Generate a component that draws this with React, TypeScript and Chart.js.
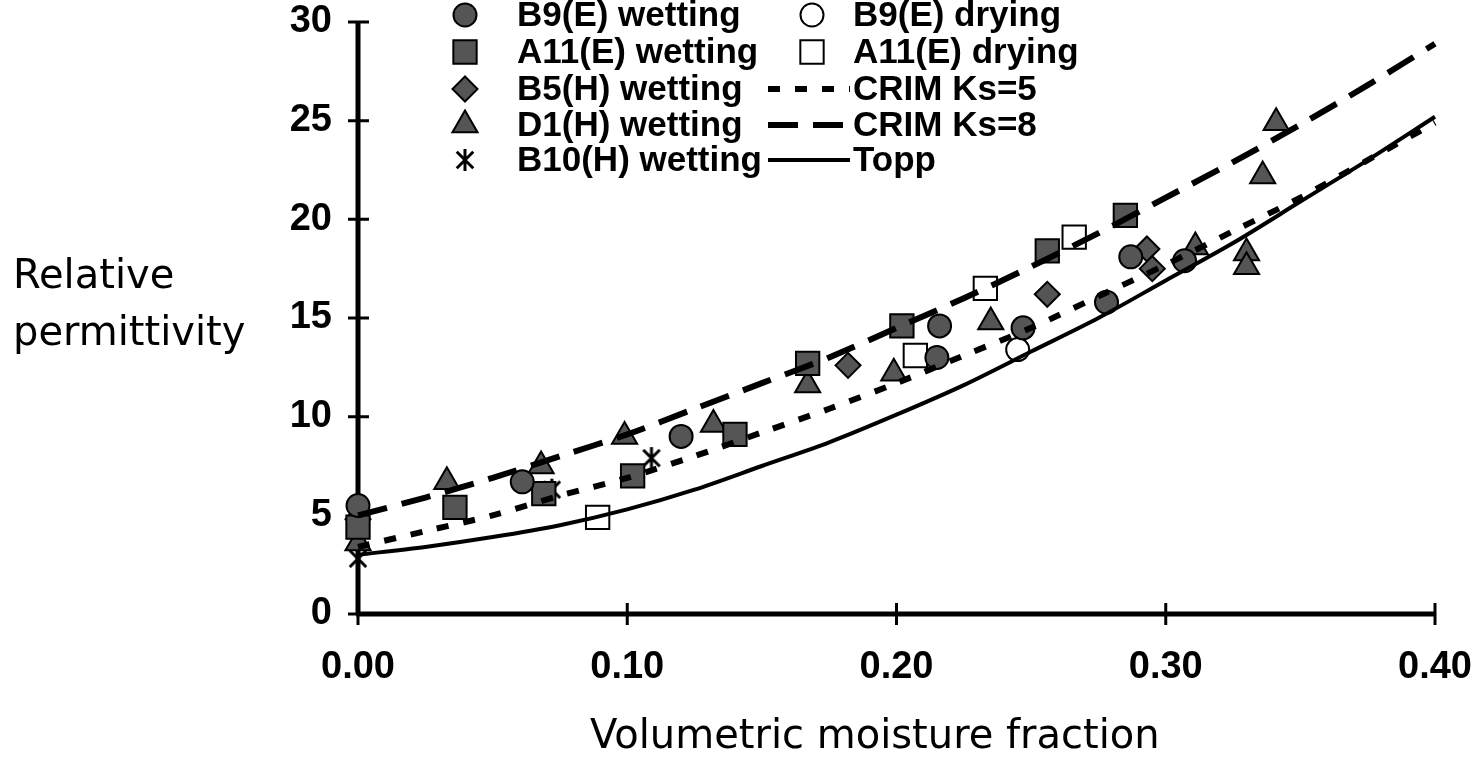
import React, { useEffect, useRef } from 'react';
import { Chart, registerables } from 'chart.js';

Chart.register(...registerables);

// ---------- data ----------
const xTickLabels = ['0.00', '0.10', '0.20', '0.30', '0.40'];
const yTickLabels = ['0', '5', '10', '15', '20', '25', '30'];
const xTitle = 'Volumetric moisture fraction';
const yTitleLines = ['Relative', 'permittivity'];

const b9WetX = [0.0, 0.061, 0.12, 0.215, 0.216, 0.247, 0.278, 0.287, 0.307];
const b9WetY = [5.5, 6.7, 9.0, 13.0, 14.6, 14.5, 15.8, 18.1, 17.9];
const b9DryX = [0.245];
const b9DryY = [13.4];
const a11WetX = [0.0, 0.036, 0.069, 0.102, 0.14, 0.167, 0.202, 0.256, 0.285];
const a11WetY = [4.4, 5.4, 6.1, 7.0, 9.1, 12.7, 14.6, 18.4, 20.2];
const a11DryX = [0.089, 0.207, 0.233, 0.266];
const a11DryY = [4.9, 13.1, 16.5, 19.1];
const b5WetX = [0.0, 0.182, 0.256, 0.293, 0.295];
const b5WetY = [4.8, 12.6, 16.2, 18.5, 17.5];
const d1WetX = [0.0, 0.033, 0.068, 0.099, 0.132, 0.167, 0.199, 0.235, 0.311, 0.33, 0.33, 0.336, 0.341];
const d1WetY = [3.6, 6.7, 7.5, 9.0, 9.6, 11.6, 12.2, 14.8, 18.6, 18.3, 17.6, 22.2, 24.9];
const b10WetX = [0.0, 0.072, 0.109];
const b10WetY = [2.8, 6.3, 7.9];

const curveX = [0, 0.025, 0.05, 0.075, 0.1, 0.125, 0.15, 0.175, 0.2, 0.225, 0.25, 0.275, 0.3, 0.325, 0.35, 0.375, 0.4];
const crim5Y = [3.4, 4.2, 5.0, 6.0, 6.9, 8.0, 9.2, 10.4, 11.7, 13.1, 14.5, 16.1, 17.7, 19.4, 21.1, 23.0, 24.9];
const crim8Y = [5.0, 5.9, 6.9, 8.0, 9.1, 10.4, 11.7, 13.0, 14.5, 16.0, 17.6, 19.3, 21.1, 22.9, 24.8, 26.8, 28.9];
const toppY = [3.0, 3.4, 3.9, 4.5, 5.3, 6.3, 7.5, 8.7, 10.1, 11.6, 13.3, 15.0, 16.9, 18.8, 20.9, 23.0, 25.2];

// ---------- helpers ----------
const zip = (xs: number[], ys: number[]) => xs.map((x, i) => ({ x, y: ys[i] }));

const FILL = '#555555';
const TICK_FONT = { family: '"Liberation Sans", Arial, sans-serif', weight: 'bold' as const, size: 38 };
const LEGEND_FONT = 'bold 35px "Liberation Sans", Arial, sans-serif';
const TITLE_FONT = '40px "DejaVu Sans", Verdana, sans-serif';

function makeAsterisk(size: number): HTMLCanvasElement {
  const c = document.createElement('canvas');
  c.width = size;
  c.height = size;
  const g = c.getContext('2d')!;
  g.strokeStyle = '#000';
  g.lineWidth = 3;
  const m = size / 2;
  const r = size / 2 - 2;
  const d = r * 0.75;
  g.beginPath();
  g.moveTo(m, m - r);
  g.lineTo(m, m + r);
  g.moveTo(m - d, m - d);
  g.lineTo(m + d, m + d);
  g.moveTo(m + d, m - d);
  g.lineTo(m - d, m + d);
  g.stroke();
  return c;
}

function drawMarker(ctx: CanvasRenderingContext2D, style: any, x: number, y: number, r: number, fill: string) {
  if (style instanceof HTMLCanvasElement) {
    ctx.drawImage(style, x - style.width / 2, y - style.height / 2);
    return;
  }
  ctx.beginPath();
  if (style === 'circle') {
    ctx.arc(x, y, r, 0, Math.PI * 2);
  } else if (style === 'rect') {
    const s = r * Math.SQRT1_2;
    ctx.rect(x - s, y - s, 2 * s, 2 * s);
  } else if (style === 'rectRot') {
    ctx.moveTo(x, y - r);
    ctx.lineTo(x + r, y);
    ctx.lineTo(x, y + r);
    ctx.lineTo(x - r, y);
    ctx.closePath();
  } else if (style === 'triangle') {
    let a = 0;
    ctx.moveTo(x + Math.sin(a) * r, y - Math.cos(a) * r);
    a += (2 * Math.PI) / 3;
    ctx.lineTo(x + Math.sin(a) * r, y - Math.cos(a) * r);
    a += (2 * Math.PI) / 3;
    ctx.lineTo(x + Math.sin(a) * r, y - Math.cos(a) * r);
    ctx.closePath();
  }
  ctx.fillStyle = fill;
  ctx.fill();
  ctx.lineWidth = 2;
  ctx.strokeStyle = '#000';
  ctx.stroke();
}

const axesPlugin = {
  id: 'crossAxes',
  beforeDatasetsDraw(chart: any) {
    const { ctx, chartArea, scales } = chart;
    const xs = scales.x;
    const ys = scales.y;
    ctx.save();
    ctx.strokeStyle = '#000';
    ctx.lineCap = 'butt';
    ctx.lineWidth = 5;
    ctx.beginPath();
    ctx.moveTo(chartArea.left, chartArea.top - 1);
    ctx.lineTo(chartArea.left, chartArea.bottom);
    ctx.moveTo(chartArea.left - 2, chartArea.bottom);
    ctx.lineTo(chartArea.right + 1, chartArea.bottom);
    ctx.stroke();
    ctx.lineWidth = 3;
    ctx.beginPath();
    ys.ticks.forEach((t: any) => {
      const py = ys.getPixelForValue(t.value);
      ctx.moveTo(chartArea.left - 10, py);
      ctx.lineTo(chartArea.left + 11, py);
    });
    xs.ticks.forEach((t: any) => {
      const px = xs.getPixelForValue(t.value);
      ctx.moveTo(px, chartArea.bottom - 11);
      ctx.lineTo(px, chartArea.bottom + 11);
    });
    ctx.stroke();
    ctx.restore();
  },
};

const textPlugin = {
  id: 'titlesLegend',
  afterDraw(chart: any) {
    const { ctx } = chart;
    const ds = chart.data.datasets;
    ctx.save();
    // axis titles
    ctx.fillStyle = '#000';
    ctx.font = TITLE_FONT;
    ctx.textAlign = 'left';
    ctx.textBaseline = 'alphabetic';
    ctx.fillText(yTitleLines[0], 13, 288);
    ctx.fillText(yTitleLines[1], 13, 345);
    ctx.fillText(xTitle, 590, 748);

    // legend
    const rows = [15, 52, 89, 125, 160];
    const col1 = [0, 2, 4, 5, 6];
    const col2 = [1, 3, 7, 8, 9];
    ctx.font = LEGEND_FONT;
    ctx.textBaseline = 'middle';
    rows.forEach((ry, i) => {
      const d1 = ds[col1[i]];
      drawMarker(ctx, d1.pointStyle, 465, ry, d1.pointRadius, d1.pointBackgroundColor);
      ctx.fillStyle = '#000';
      ctx.fillText(d1.label, 517, ry + 1);
      const d2 = ds[col2[i]];
      if (d2.showLine) {
        ctx.save();
        ctx.strokeStyle = '#000';
        ctx.lineWidth = d2.borderWidth;
        ctx.setLineDash(d2.borderDash || []);
        ctx.beginPath();
        ctx.moveTo(768, ry);
        ctx.lineTo(850, ry);
        ctx.stroke();
        ctx.restore();
      } else {
        drawMarker(ctx, d2.pointStyle, 812, ry, d2.pointRadius, d2.pointBackgroundColor);
      }
      ctx.fillStyle = '#000';
      ctx.fillText(d2.label, 853, ry + 1);
    });
    ctx.restore();
  },
};

export default function App() {
  const ref = useRef<HTMLCanvasElement | null>(null);

  useEffect(() => {
    if (!ref.current) return;
    const star = makeAsterisk(26);
    const marker = (label: string, xs: number[], ys: number[], style: any, r: number, fill: string) => ({
      label,
      data: zip(xs, ys),
      showLine: false,
      pointStyle: style,
      pointRadius: r,
      pointBackgroundColor: fill,
      pointBorderColor: '#000',
      pointBorderWidth: 2,
      clip: false as const,
      order: 1,
    });
    const curve = (label: string, ys: number[], width: number, dash: number[]) => ({
      label,
      data: zip(curveX, ys),
      showLine: true,
      borderColor: '#000',
      borderWidth: width,
      borderDash: dash,
      pointRadius: 0,
      tension: 0.3,
      fill: false,
      clip: false as const,
      order: 0,
    });

    const datasets: any[] = [
      marker('B9(E) wetting', b9WetX, b9WetY, 'circle', 11.5, FILL), // 0
      marker('B9(E) drying', b9DryX, b9DryY, 'circle', 11.5, '#ffffff'), // 1
      marker('A11(E) wetting', a11WetX, a11WetY, 'rect', 16.5, FILL), // 2
      marker('A11(E) drying', a11DryX, a11DryY, 'rect', 16.5, '#ffffff'), // 3
      marker('B5(H) wetting', b5WetX, b5WetY, 'rectRot', 12.5, FILL), // 4
      marker('D1(H) wetting', d1WetX, d1WetY, 'triangle', 14.5, FILL), // 5
      marker('B10(H) wetting', b10WetX, b10WetY, star, 13, FILL), // 6
      curve('CRIM Ks=5', crim5Y, 6, [12, 15]), // 7
      curve('CRIM Ks=8', crim8Y, 6, [30, 15]), // 8
      curve('Topp', toppY, 4, []), // 9
    ];

    const chart = new Chart(ref.current, {
      type: 'scatter',
      data: { datasets },
      plugins: [axesPlugin, textPlugin],
      options: {
        animation: false,
        responsive: false,
        events: [],
        layout: { padding: { top: 22, right: 44, left: 0, bottom: 0 } },
        plugins: { legend: { display: false }, tooltip: { enabled: false } },
        scales: {
          x: {
            type: 'linear',
            min: 0,
            max: 0.4,
            afterFit: (s: any) => {
              s.height = 148;
              s.paddingLeft = 0;
              s.paddingRight = 0;
            },
            grid: { display: false },
            border: { display: false },
            ticks: {
              stepSize: 0.1,
              padding: 23,
              color: '#000',
              font: TICK_FONT,
              maxRotation: 0,
              callback: (_v: any, i: number) => xTickLabels[i],
            },
          },
          y: {
            type: 'linear',
            min: 0,
            max: 30,
            afterFit: (s: any) => {
              s.width = 358;
              s.paddingTop = 0;
              s.paddingBottom = 0;
            },
            grid: { display: false },
            border: { display: false },
            ticks: {
              stepSize: 5,
              padding: 18,
              color: '#000',
              font: TICK_FONT,
              callback: (_v: any, i: number) => yTickLabels[i],
            },
          },
        },
      } as any,
    });
    return () => chart.destroy();
  }, []);

  return (
    <div style={{ position: 'absolute', left: 0, top: 0, width: 1479, height: 762, background: '#fff' }}>
      <canvas ref={ref} width={1479} height={762} />
    </div>
  );
}
